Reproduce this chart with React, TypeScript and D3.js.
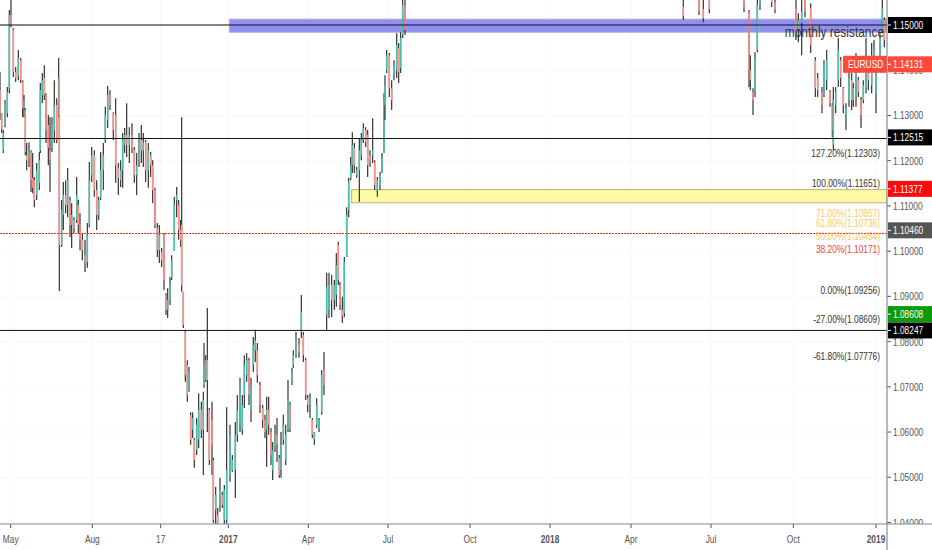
import * as d3 from "d3";

const WIDTH = 932;
const HEIGHT = 550;
const PLOT_RIGHT = 887;
const PLOT_BOTTOM = 524;

// bar position on the time scale, 3 slots = 1px of the reference
const barSlots = [
  0, 5, 10, 15, 22, 28, 33, 40, 47, 55,
  62, 68, 72, 76, 80, 87, 93, 98, 103, 110,
  118, 121, 127, 133, 138, 145, 150, 156, 163, 170,
  176, 178, 185, 190, 197, 203, 210, 215, 222, 230,
  235, 240, 247, 255, 262, 268, 275, 283, 290, 296,
  302, 310, 316, 323, 330, 340, 347, 355, 362, 368,
  374, 380, 388, 396, 403, 410, 417, 424, 430, 437,
  445, 452, 458, 465, 472, 478, 485, 492, 498, 503,
  510, 515, 523, 530, 536, 542, 545, 550, 556, 562,
  567, 572, 578, 583, 590, 596, 604, 610, 612, 617,
  622, 628, 636, 640, 647, 653, 660, 667, 673, 680,
  690, 697, 706, 712, 720, 727, 733, 740, 747, 753,
  760, 766, 772, 780, 788, 795, 800, 806, 813, 818,
  825, 831, 838, 843, 850, 857, 864, 870, 876, 880,
  888, 897, 904, 910, 917, 923, 930, 937, 943, 950,
  957, 965, 972,
  980, 987, 995, 1003, 1009, 1015, 1020, 1027, 1033, 1040,
  1046, 1052, 1057, 1063, 1070, 1078, 1084, 1090, 1097, 1103,
  1110, 1118, 1124, 1132, 1140, 1146, 1152, 1155, 1160, 1168,
  1175, 1182, 1190, 1196, 1202, 1208, 1215,
  2050, 2097, 2110, 2128, 2232, 2247, 2251, 2259, 2265, 2272,
  2280, 2315, 2325, 2388, 2395, 2405, 2415, 2432, 2446, 2453,
  2466, 2472, 2480, 2490, 2497, 2500, 2507, 2515, 2522, 2530,
  2538, 2547, 2555, 2560, 2568, 2575, 2583, 2590, 2598, 2605,
  2615, 2622, 2628, 2640, 2647, 2653,
];

// prices x 10000
const highs = [
  11396, 11305, 11268, 11334, 11363, 11533, 11555, 11493, 11407, 11445,
  11427, 11378, 11345, 11316, 11239, 11241, 11223, 11217, 11164, 11195,
  11219, 11372, 11394, 11411, 11349, 11301, 11296, 11296, 11378, 11338,
  11427, 11383, 11113, 11153, 11157, 11184, 11120, 11106, 11075, 11164,
  11113, 11084, 11040, 11025, 11062, 11197, 11230, 11223, 11157, 11120,
  11219, 11239, 11319, 11365, 11356, 11307, 11338, 11195, 11201, 11261,
  11272, 11327, 11274, 11283, 11230, 11217, 11261, 11279, 11261, 11246,
  11239, 11219, 11201, 11140, 11062, 11058, 11007, 11040, 10907, 10918,
  10943, 10991, 11120, 11142, 11113, 11069, 11296, 10910, 10826, 10759,
  10744, 10644, 10644, 10587, 10631, 10686, 10667, 10689, 10797, 10770,
  10874, 10653, 10667, 10543, 10479, 10432, 10499, 10468, 10483, 10655,
  10616, 10549, 10622, 10682, 10720, 10682, 10770, 10775, 10764, 10720,
  10810, 10826, 10797, 10711, 10660, 10638, 10678, 10678, 10609, 10578,
  10616, 10631, 10549, 10600, 10638, 10616, 10715, 10667, 10742, 10781,
  10821, 10808, 10903, 10821, 10764, 10682, 10686, 10631, 10600, 10675,
  10631, 10737, 10777,
  10952, 10952, 10947, 10936, 10996, 11020, 10932, 10899, 10987, 11097,
  11162, 11208, 11263, 11239, 11186, 11250, 11261, 11283, 11274, 11268,
  11223, 11294, 11201, 11164, 11175, 11217, 11349, 11389, 11445, 11438,
  11378, 11422, 11482, 11460, 11484, 11560, 11560,
  11580, 11580, 11575, 11575, 11575, 11533, 11433, 11360, 11440, 11570,
  11575, 11575, 11575, 11580, 11526, 11575, 11575, 11548, 11429, 11394,
  11363, 11422, 11445, 11356, 11327, 11363, 11363, 11471, 11429, 11363,
  11327, 11400, 11394, 11372, 11438, 11385, 11341, 11378, 11471, 11429,
  11460, 11467, 11407, 11482, 11570, 11517,
];

const lows = [
  11290, 11261, 11217, 11274, 11296, 11349, 11495, 11385, 11374, 11378,
  11372, 11296, 11296, 11212, 11179, 11186, 11131, 11128, 11097, 11113,
  11135, 11217, 11327, 11334, 11239, 11190, 11131, 11219, 11239, 11239,
  11296, 10912, 11009, 11047, 11084, 11075, 11031, 11007, 11040, 11062,
  11040, 11002, 10980, 10954, 10963, 11053, 11153, 11120, 11047, 11069,
  11113, 11135, 11239, 11272, 11312, 11246, 11151, 11124, 11142, 11140,
  11217, 11208, 11195, 11217, 11151, 11124, 11186, 11195, 11186, 11153,
  11140, 11164, 11106, 11051, 10987, 10974, 10965, 10914, 10859, 10852,
  10881, 10936, 11001, 11075, 11025, 11009, 10910, 10830, 10711, 10667,
  10689, 10572, 10587, 10521, 10549, 10565, 10587, 10505, 10698, 10711,
  10600, 10527, 10505, 10399, 10384, 10384, 10424, 10432, 10395, 10395,
  10490, 10512, 10454, 10578, 10600, 10594, 10653, 10711, 10660, 10622,
  10733, 10755, 10709, 10642, 10609, 10587, 10523, 10594, 10527, 10494,
  10556, 10534, 10499, 10499, 10572, 10527, 10600, 10600, 10704, 10742,
  10764, 10764, 10808, 10755, 10671, 10644, 10631, 10587, 10572, 10609,
  10600, 10638, 10682,
  10826, 10852, 10854, 10870, 10877, 10925, 10870, 10841, 10854, 10987,
  11075, 11157, 11173, 11173, 11162, 11109, 11201, 11239, 11230, 11164,
  11186, 11195, 11135, 11120, 11135, 11173, 11217, 11290, 11394, 11341,
  11312, 11378, 11383, 11372, 11394, 11471, 11478,
  11511, 11522, 11506, 11526, 11528, 11363, 11356, 11301, 11341, 11440,
  11533, 11540, 11526, 11467, 11462, 11433, 11517, 11438, 11341, 11341,
  11305, 11341, 11356, 11319, 11252, 11223, 11305, 11363, 11363, 11305,
  11268, 11319, 11312, 11319, 11319, 11341, 11272, 11327, 11349, 11356,
  11349, 11407, 11305, 11400, 11482, 11451,
];

const opens = [
  11356, 11305, 11223, 11279, 11305, 11360, 11522, 11489, 11396, 11387,
  11422, 11374, 11316, 11312, 11212, 11201, 11219, 11162, 11157, 11124,
  11151, 11223, 11345, 11383, 11345, 11279, 11223, 11228, 11268, 11323,
  11301, 11383, 11014, 11080, 11124, 11102, 11113, 11058, 11069, 11069,
  11102, 11058, 11025, 10991, 10976, 11058, 11168, 11212, 11135, 11080,
  11117, 11179, 11246, 11290, 11345, 11305, 11301, 11184, 11157, 11179,
  11235, 11257, 11235, 11257, 11223, 11168, 11201, 11246, 11223, 11241,
  11179, 11212, 11190, 11135, 11051, 11002, 10998, 11036, 10903, 10870,
  10892, 10941, 11002, 11113, 11102, 11047, 11058, 10910, 10821, 10748,
  10693, 10638, 10605, 10583, 10560, 10583, 10649, 10605, 10704, 10715,
  10759, 10649, 10627, 10538, 10428, 10417, 10439, 10461, 10406, 10406,
  10505, 10516, 10516, 10594, 10616, 10605, 10682, 10726, 10759, 10649,
  10748, 10781, 10781, 10704, 10653, 10627, 10605, 10649, 10600, 10516,
  10565, 10594, 10543, 10516, 10583, 10538, 10605, 10660, 10709, 10748,
  10770, 10793, 10821, 10815, 10759, 10675, 10660, 10627, 10583, 10616,
  10609, 10644, 10737,
  10859, 10870, 10925, 10892, 10903, 11014, 10925, 10870, 10863, 10987,
  11091, 11162, 11190, 11228, 11168, 11179, 11212, 11246, 11268, 11257,
  11212, 11212, 11197, 11135, 11146, 11175, 11217, 11323, 11400, 11433,
  11360, 11389, 11400, 11449, 11405, 11478, 11544,
  11540, 11560, 11535, 11565, 11565, 11528, 11400, 11352, 11352, 11445,
  11544, 11560, 11550, 11535, 11489, 11505, 11560, 11537, 11422, 11383,
  11352, 11345, 11378, 11352, 11323, 11235, 11323, 11378, 11422, 11360,
  11301, 11334, 11378, 11334, 11345, 11378, 11334, 11334, 11360, 11400,
  11367, 11422, 11349, 11405, 11489, 11511,
];

const closes = [
  11305, 11270, 11261, 11327, 11352, 11522, 11500, 11396, 11383, 11427,
  11378, 11316, 11334, 11219, 11201, 11223, 11157, 11140, 11113, 11179,
  11201, 11356, 11378, 11345, 11268, 11228, 11201, 11279, 11323, 11246,
  11383, 11014, 11091, 11124, 11102, 11157, 11058, 11080, 11051, 11124,
  11058, 11025, 11002, 10976, 11036, 11157, 11212, 11135, 11080, 11113,
  11179, 11212, 11301, 11345, 11323, 11268, 11190, 11162, 11179, 11246,
  11257, 11235, 11257, 11228, 11168, 11190, 11246, 11223, 11241, 11179,
  11223, 11190, 11135, 11058, 11002, 11036, 10980, 10936, 10870, 10892,
  10925, 10980, 11102, 11124, 11047, 11025, 10925, 10837, 10726, 10682,
  10733, 10583, 10631, 10538, 10616, 10649, 10605, 10671, 10748, 10759,
  10715, 10538, 10572, 10406, 10461, 10395, 10472, 10439, 10472, 10516,
  10594, 10538, 10594, 10649, 10704, 10660, 10748, 10759, 10682, 10704,
  10793, 10803, 10726, 10660, 10627, 10600, 10649, 10616, 10549, 10560,
  10594, 10572, 10505, 10572, 10616, 10594, 10671, 10609, 10733, 10770,
  10803, 10777, 10866, 10770, 10682, 10660, 10675, 10594, 10600, 10660,
  10627, 10726, 10704,
  10921, 10925, 10892, 10925, 10969, 10936, 10881, 10857, 10976, 11080,
  11153, 11190, 11235, 11190, 11179, 11223, 11246, 11272, 11241, 11190,
  11197, 11223, 11146, 11157, 11168, 11206, 11334, 11367, 11433, 11360,
  11334, 11411, 11456, 11396, 11471, 11544, 11489,
  11520, 11530, 11515, 11535, 11540, 11400, 11378, 11334, 11427, 11544,
  11560, 11550, 11535, 11480, 11511, 11530, 11530, 11456, 11360, 11356,
  11323, 11411, 11422, 11327, 11268, 11334, 11352, 11445, 11383, 11323,
  11316, 11383, 11334, 11360, 11400, 11352, 11301, 11367, 11422, 11378,
  11433, 11445, 11400, 11471, 11537, 11467,
];

const priceTicks = [1.04, 1.05, 1.06, 1.07, 1.08, 1.09, 1.1, 1.11, 1.12, 1.13, 1.14, 1.15];
const timeSlots = [32, 277, 482, 685, 925, 1164, 1410, 1650, 1893, 2133, 2380, 2628];
const timeLabels = ["May", "Aug", "17", "2017", "Apr", "Jul", "Oct", "2018", "Apr", "Jul", "Oct", "2019"];

const levelLines = [1.15, 1.1249, 1.08247];
const lastPriceLine = 1.1039;

const resistanceZone = { start: 688, top: 1.1513, bottom: 1.1484 };
const demandZone = { start: 1055, top: 1.1136, bottom: 1.1107 };

const fibLabels = [
  "127.20%(1.12303)", "100.00%(1.11651)", "71.00%(1.10957)", "61.80%(1.10736)", "50.00%(1.10454)",
  "38.20%(1.10171)", "0.00%(1.09256)", "-27.00%(1.08609)", "-61.80%(1.07776)",
];
const fibPrices = [1.1231, 1.1165, 1.1098, 1.1076, 1.1046, 1.1019, 1.0928, 1.0864, 1.0781];
const fibColors = ["#333", "#333", "#ffc766", "#ffc766", "#ffc766", "#f44336", "#333", "#333", "#333"];

const tagPrices = [1.15, 1.14131, 1.12515, 1.11377, 1.1046, 1.08608, 1.08247];
const tagColors = ["#000", "#ff4a3a", "#000", "#f80d0d", "#555", "#0a9a0a", "#000"];

const FONT = "'Liberation Sans', Arial, sans-serif";

const x = d3.scaleLinear().domain([0, 2661]).range([0, PLOT_RIGHT]);
const y = d3.scaleLinear().domain([1.04, 1.15]).range([522.5, 25]);

const fmt = d3.format(".5f");

const bars = barSlots.map((slot, i) => ({
  slot,
  open: opens[i] / 10000,
  high: highs[i] / 10000,
  low: lows[i] / 10000,
  close: closes[i] / 10000,
}));

// the reference is squeezed horizontally, the text with it
function Label({
  px,
  py,
  children,
  anchor = "start",
  size = 11,
  squeeze = 0.76,
  fill = "#555",
  weight = "normal",
}: {
  px: number;
  py: number;
  children: string;
  anchor?: string;
  size?: number;
  squeeze?: number;
  fill?: string;
  weight?: string;
}) {
  return (
    <text
      transform={`translate(${px},${py}) scale(${squeeze},1)`}
      textAnchor={anchor}
      fontFamily={FONT}
      fontSize={size}
      fontWeight={weight}
      fill={fill}
    >
      {children}
    </text>
  );
}

function Zone({ start, top, bottom, fill, stroke }: { start: number; top: number; bottom: number; fill: string; stroke: string }) {
  return (
    <rect
      x={x(start)}
      y={y(top)}
      width={PLOT_RIGHT - x(start)}
      height={y(bottom) - y(top)}
      fill={fill}
      stroke={stroke}
    />
  );
}

export default function App() {
  return (
    <svg
      width={WIDTH}
      height={HEIGHT}
      style={{ position: "absolute", left: 0, top: 0, display: "block", background: "#fff" }}
    >
      <defs>
        <clipPath id="plot">
          <rect x={0} y={0} width={PLOT_RIGHT} height={PLOT_BOTTOM} />
        </clipPath>
        <clipPath id="price-axis">
          <rect x={PLOT_RIGHT} y={0} width={WIDTH - PLOT_RIGHT} height={PLOT_BOTTOM} />
        </clipPath>
      </defs>

      <g clipPath="url(#plot)">
        {/* Grid */}
        {timeSlots.map((s) => (
          <line key={s} x1={x(s)} x2={x(s)} y1={0} y2={PLOT_BOTTOM} stroke="#f8f8fa" />
        ))}
        {priceTicks.map((p) => (
          <line key={p} x1={0} x2={PLOT_RIGHT} y1={y(p)} y2={y(p)} stroke="#f8f8fa" />
        ))}

        <Zone {...resistanceZone} fill="#8f8ff5" stroke="#b4b4c8" />
        <Zone {...demandZone} fill="#fffaa6" stroke="#b9b478" />

        {/* Candles */}
        {bars.map((d) => {
          const up = d.close >= d.open;
          const top = y(Math.max(d.open, d.close));
          const bottom = y(Math.min(d.open, d.close));
          return (
            <g key={d.slot}>
              <line x1={x(d.slot)} x2={x(d.slot)} y1={y(d.high)} y2={y(d.low)} stroke="#333" strokeWidth={1.2} />
              <rect
                x={x(d.slot) - 0.8}
                y={top}
                width={1.6}
                height={Math.max(bottom - top, 0.5)}
                fill={up ? "#4fbfae" : "#ff8f84"}
              />
            </g>
          );
        })}

        {/* Levels */}
        {levelLines.map((p) => (
          <line key={p} x1={0} x2={PLOT_RIGHT} y1={y(p)} y2={y(p)} stroke="#111" strokeWidth={1} />
        ))}
        <line
          x1={0}
          x2={PLOT_RIGHT}
          y1={y(lastPriceLine)}
          y2={y(lastPriceLine)}
          stroke="#ff2a1a"
          strokeDasharray="2 1"
        />

        {/* Fib labels sit just under their level */}
        {fibLabels.map((label, i) => (
          <Label key={label} px={880} py={y(fibPrices[i]) + 10} anchor="end" fill={fibColors[i]}>
            {label}
          </Label>
        ))}

        <Label px={884} py={37} anchor="end" size={14} squeeze={0.85} fill="#333">
          monthly resistance
        </Label>
      </g>

      {/* Price axis */}
      <g clipPath="url(#price-axis)">
        {priceTicks.map((p) => (
          <g key={p}>
            <line x1={PLOT_RIGHT} x2={PLOT_RIGHT + 4} y1={y(p)} y2={y(p)} stroke="#555" />
            <Label px={893} py={y(p) + 4}>
              {fmt(p)}
            </Label>
          </g>
        ))}
      </g>

      {/* Price tags */}
      {tagPrices.map((p, i) => (
        <g key={p}>
          <rect x={PLOT_RIGHT + 1} y={y(p) - 8} width={WIDTH - PLOT_RIGHT - 1} height={16} fill={tagColors[i]} />
          <line x1={PLOT_RIGHT + 1} x2={PLOT_RIGHT + 4} y1={y(p)} y2={y(p)} stroke="#fff" />
          <Label px={893} py={y(p) + 4} fill="#fff">
            {fmt(p)}
          </Label>
        </g>
      ))}
      <rect x={843} y={y(1.14131) - 8.5} width={44} height={17} fill="#ff4a3a" />
      <Label px={848} py={y(1.14131) + 4} fill="#fff">
        EURUSD
      </Label>

      {/* Time axis */}
      {timeSlots.map((s, i) => (
        <g key={s}>
          <line x1={x(s)} x2={x(s)} y1={PLOT_BOTTOM} y2={PLOT_BOTTOM + 4} stroke="#555" />
          <Label
            px={x(s)}
            py={543}
            anchor="middle"
            weight={timeLabels[i].length === 4 ? "bold" : "normal"}
          >
            {timeLabels[i]}
          </Label>
        </g>
      ))}

      <line x1={0} x2={WIDTH} y1={PLOT_BOTTOM} y2={PLOT_BOTTOM} stroke="#858a99" strokeWidth={1.2} />
      <line x1={PLOT_RIGHT} x2={PLOT_RIGHT} y1={0} y2={HEIGHT} stroke="#858a99" strokeWidth={1.2} />
    </svg>
  );
}
